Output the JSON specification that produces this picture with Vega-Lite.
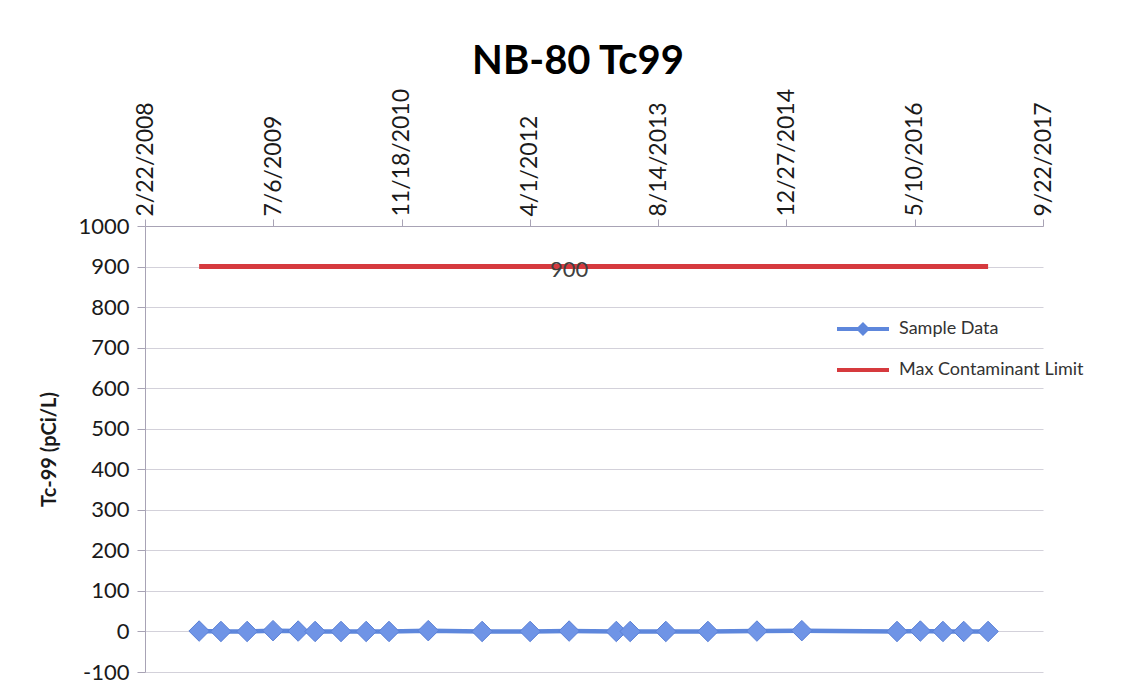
{
  "$schema": "https://vega.github.io/schema/vega-lite/v6.json",
  "width": 898,
  "height": 446,
  "autosize": {"type": "none"},
  "padding": {"left": 145, "top": 226, "right": 90, "bottom": 22},
  "background": "white",
  "config": {"view": {"stroke": null}, "font": "Lato"},
  "title": {"text": "NB-80 Tc99", "font": "Lato", "fontSize": 40, "fontWeight": "bold", "color": "#000000", "anchor": "middle", "frame": "group", "dx": -16, "offset": 6},
  "data": {"values": [
    {"date": "2008-09-20T00:00:00", "value": 1, "series": "Sample Data"},
    {"date": "2008-12-14T00:00:00", "value": 0, "series": "Sample Data"},
    {"date": "2009-03-26T00:00:00", "value": 0, "series": "Sample Data"},
    {"date": "2009-07-05T00:00:00", "value": 2, "series": "Sample Data"},
    {"date": "2009-10-11T00:00:00", "value": 1, "series": "Sample Data"},
    {"date": "2009-12-16T00:00:00", "value": 0, "series": "Sample Data"},
    {"date": "2010-03-27T00:00:00", "value": 0, "series": "Sample Data"},
    {"date": "2010-07-03T00:00:00", "value": 0, "series": "Sample Data"},
    {"date": "2010-09-30T00:00:00", "value": 0, "series": "Sample Data"},
    {"date": "2011-03-02T00:00:00", "value": 2, "series": "Sample Data"},
    {"date": "2011-09-28T00:00:00", "value": 0, "series": "Sample Data"},
    {"date": "2012-04-02T00:00:00", "value": 0, "series": "Sample Data"},
    {"date": "2012-09-01T00:00:00", "value": 1, "series": "Sample Data"},
    {"date": "2013-03-04T00:00:00", "value": 0, "series": "Sample Data"},
    {"date": "2013-04-27T00:00:00", "value": 0, "series": "Sample Data"},
    {"date": "2013-09-13T00:00:00", "value": 0, "series": "Sample Data"},
    {"date": "2014-02-24T00:00:00", "value": 0, "series": "Sample Data"},
    {"date": "2014-09-03T00:00:00", "value": 1, "series": "Sample Data"},
    {"date": "2015-02-25T00:00:00", "value": 2, "series": "Sample Data"},
    {"date": "2016-03-02T00:00:00", "value": 0, "series": "Sample Data"},
    {"date": "2016-06-01T00:00:00", "value": 1, "series": "Sample Data"},
    {"date": "2016-08-28T00:00:00", "value": 0, "series": "Sample Data"},
    {"date": "2016-11-17T00:00:00", "value": 0, "series": "Sample Data"},
    {"date": "2017-02-20T00:00:00", "value": 0, "series": "Sample Data"},
    {"date": "2008-09-20T00:00:00", "value": 900, "series": "Max Contaminant Limit"},
    {"date": "2012-09-01T00:00:00", "value": 900, "series": "Max Contaminant Limit", "label": "900"},
    {"date": "2017-02-20T00:00:00", "value": 900, "series": "Max Contaminant Limit"}
  ]},
  "encoding": {
    "x": {
      "field": "date", "type": "temporal",
      "scale": {"domain": [{"year": 2008, "month": 2, "date": 22}, {"year": 2017, "month": 9, "date": 22}], "nice": false},
      "axis": {
        "orient": "top", "title": null, "grid": false,
        "values": [
          {"year": 2008, "month": 2, "date": 22},
          {"year": 2009, "month": 7, "date": 6},
          {"year": 2010, "month": 11, "date": 18},
          {"year": 2012, "month": 4, "date": 1},
          {"year": 2013, "month": 8, "date": 14},
          {"year": 2014, "month": 12, "date": 27},
          {"year": 2016, "month": 5, "date": 10},
          {"year": 2017, "month": 9, "date": 22}
        ],
        "format": "%-m/%-d/%Y", "labelAngle": -90, "labelFont": "Lato", "labelFontSize": 23,
        "labelColor": "#1a1a1a", "tickSize": 7, "labelPadding": 3, "domainColor": "#A8A3B5",
        "tickColor": "#A8A3B5", "labelOverlap": false, "labelFlush": false, "labelBound": false
      }
    },
    "y": {
      "field": "value", "type": "quantitative",
      "scale": {"domain": [-100, 1000], "nice": false, "zero": false},
      "axis": {
        "title": "Tc-99 (pCi/L)", "titleFont": "Lato", "titleFontSize": 20, "titleFontWeight": "bold",
        "titleColor": "#1a1a1a", "titlePadding": 18,
        "values": [-100, 0, 100, 200, 300, 400, 500, 600, 700, 800, 900, 1000],
        "labelExpr": "'' + datum.value",
        "labelFont": "Lato", "labelFontSize": 22, "labelColor": "#1a1a1a", "labelPadding": 8,
        "tickSize": 8, "domainColor": "#A8A3B5", "tickColor": "#A8A3B5",
        "grid": true, "gridColor": "#D3D1DA", "gridWidth": 1
      }
    }
  },
  "layer": [
    {
      "transform": [{"filter": "datum.series === 'Sample Data'"}],
      "mark": {"type": "line", "strokeWidth": 4.5},
      "encoding": {
        "color": {
          "field": "series", "type": "nominal",
          "scale": {"domain": ["Sample Data", "Max Contaminant Limit"], "range": ["#5E87DC", "#D63A3E"]},
          "legend": {
            "orient": "none", "legendX": 690, "legendY": 75, "title": null, "padding": 0,
            "labelFont": "Lato", "labelFontSize": 18, "labelColor": "#333333", "labelOffset": 8, "labelLimit": 400,
            "symbolType": "stroke", "symbolSize": 2704, "symbolStrokeWidth": 4, "rowPadding": -10,
            "encode": {
              "symbols": {
                "update": {
                  "shape": [
                    {"test": "datum.value === 'Sample Data'", "value": "M-1,0L1,0M-0.16,0L0,-0.16L0.16,0L0,0.16Z"},
                    {"value": "stroke"}
                  ],
                  "fill": [
                    {"test": "datum.value === 'Sample Data'", "value": "#6F94E6"},
                    {"value": "transparent"}
                  ]
                }
              }
            }
          }
        }
      }
    },
    {
      "transform": [{"filter": "datum.series === 'Max Contaminant Limit'"}],
      "mark": {"type": "line", "strokeWidth": 5},
      "encoding": {"color": {"field": "series", "type": "nominal"}}
    },
    {
      "transform": [{"filter": "datum.series === 'Sample Data'"}],
      "mark": {"type": "point", "shape": "diamond", "filled": true, "size": 420, "color": "#6F94E6", "stroke": "#5A80D6", "strokeWidth": 1, "opacity": 1}
    },
    {
      "transform": [{"filter": "datum.label != null"}],
      "mark": {"type": "text", "font": "Lato", "fontSize": 22, "color": "#404040", "baseline": "middle", "dy": 3},
      "encoding": {"text": {"field": "label"}}
    }
  ]
}
